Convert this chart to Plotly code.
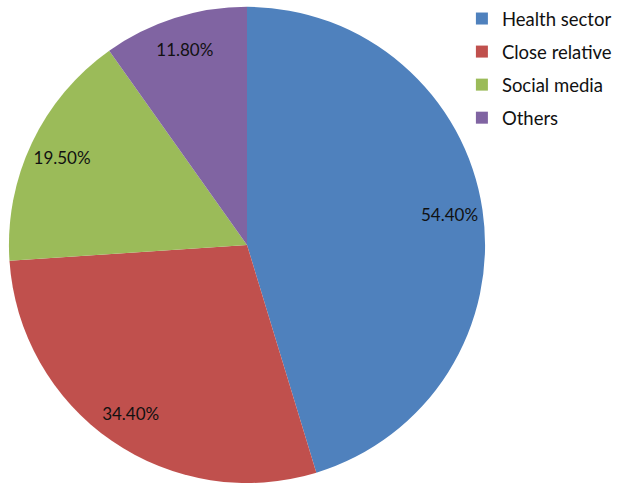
"""Pie chart: sources of information (share of respondents)."""
import plotly.graph_objects as go

labels = ["Health sector", "Close relative", "Social media", "Others"]
values = [54.40, 34.40, 19.50, 11.80]
value_text = ["54.40%", "34.40%", "19.50%", "11.80%"]
colors = ["#4F81BD", "#C0504D", "#9BBB59", "#8064A2"]

_FONT = "Lato, 'Open Sans', sans-serif"
_DOMAIN = dict(x=[0.0113, 0.7855], y=[0.0, 0.994])

fig = go.Figure()

# filled slices
fig.add_trace(go.Pie(
    labels=labels,
    values=values,
    sort=False,
    direction="clockwise",
    rotation=0,
    marker=dict(colors=colors, line=dict(width=0)),
    textinfo="none",
    domain=_DOMAIN,
    showlegend=False,
    hoverinfo="label+text",
    hovertext=value_text,
))

# transparent ring carrying the labels near the rim (Excel "best fit" look)
fig.add_trace(go.Pie(
    labels=labels,
    values=values,
    sort=False,
    direction="clockwise",
    rotation=0,
    hole=0.72,
    marker=dict(colors=["rgba(0,0,0,0)"] * len(labels), line=dict(width=0)),
    text=value_text,
    textinfo="text",
    textposition="inside",
    insidetextorientation="horizontal",
    textfont=dict(family=_FONT, size=17, color="#111111"),
    domain=_DOMAIN,
    showlegend=False,
    hoverinfo="skip",
))

# legend proxies, one group each so the items get spaced apart
for name, c in zip(labels, colors):
    fig.add_trace(go.Scatter(
        x=[None], y=[None],
        mode="markers",
        marker=dict(symbol="square", size=12, color=c),
        name=name,
        legendgroup=name,
        showlegend=True,
        hoverinfo="skip",
    ))

fig.update_layout(
    width=620,
    height=483,
    margin=dict(t=0, b=0, l=0, r=0),
    paper_bgcolor="#ffffff",
    plot_bgcolor="#ffffff",
    font=dict(family=_FONT, color="#111111"),
    xaxis=dict(visible=False),
    yaxis=dict(visible=False),
    legend=dict(
        x=0.745, y=1.009, xanchor="left", yanchor="top",
        font=dict(family=_FONT, size=18.5, color="#111111"),
        tracegroupgap=6,
        itemwidth=30,
        bgcolor="rgba(0,0,0,0)",
    ),
)

# page body has a default 8px margin; drop it so the figure sits at the corner
fig.write_html(
    "out.html",
    config={"displayModeBar": False},
    post_script="document.body.style.margin = '0';",
)
